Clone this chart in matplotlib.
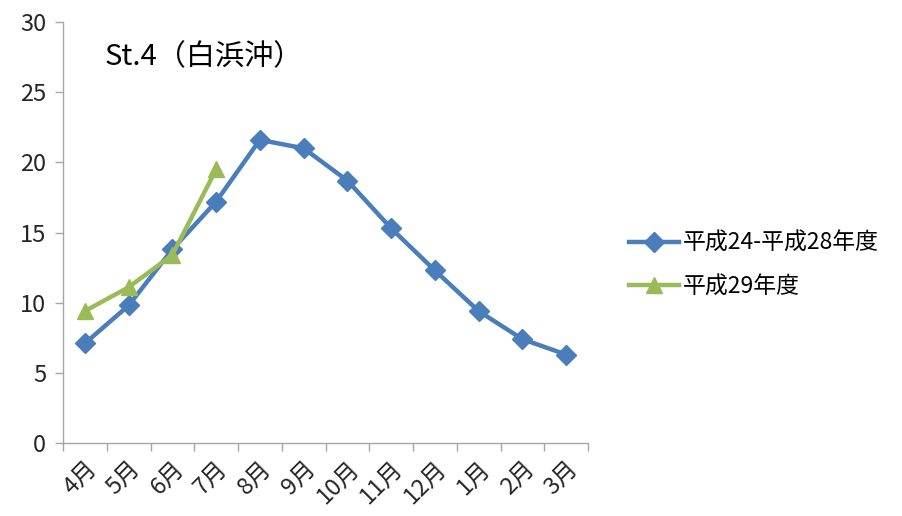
import matplotlib
matplotlib.use("Agg")
import matplotlib.pyplot as plt

plt.rcParams['font.family'] = ['Noto Sans CJK JP', 'DejaVu Sans']

months = ['4月', '5月', '6月', '7月', '8月', '9月', '10月', '11月', '12月', '1月', '2月', '3月']
avg_h24_h28 = [7.1, 9.8, 13.8, 17.2, 21.6, 21.0, 18.7, 15.3, 12.3, 9.4, 7.4, 6.3]
h29 = [9.4, 11.1, 13.4, 19.5]
series_names = ['平成24-平成28年度', '平成29年度']
title = 'St.4（白浜沖）'

fig = plt.figure(figsize=(9.02, 5.16), dpi=100)
ax = fig.add_axes([63/902, 1 - 443/516, (588-63)/902, (443-22)/516])

x = list(range(len(months)))
ax.plot(x, avg_h24_h28, color='#4A7EBB', lw=3.2, marker='D', ms=10,
        markeredgecolor='#4A7EBB', label=series_names[0], solid_joinstyle='round')
ax.plot(x[:len(h29)], h29, color='#9BBB59', lw=3.2, marker='^', ms=12,
        markeredgecolor='#9BBB59', label=series_names[1], solid_joinstyle='round')

ax.set_xlim(-0.5, len(months) - 0.5)
ax.set_ylim(0, 30)
ax.set_yticks(range(0, 31, 5))
ax.set_xticks([i + 0.5 for i in range(-1, len(months))], minor=False)
ax.set_xticklabels([])
ax.set_xticks(x, minor=True)
ax.set_xticklabels(months, minor=True, rotation=45, ha='right', va='top',
                   rotation_mode='anchor', fontsize=17)
ax.tick_params(axis='x', which='major', length=6, color='#A6A6A6', width=1)
ax.tick_params(axis='x', which='minor', length=0, pad=10)
ax.tick_params(axis='y', length=6, color='#A6A6A6', width=1, labelsize=17, pad=6)
for lbl in ax.get_yticklabels():
    lbl.set_color('#262626')
for lbl in ax.get_xticklabels(minor=True):
    lbl.set_color('#262626')

for s in ['top', 'right']:
    ax.spines[s].set_visible(False)
for s in ['left', 'bottom']:
    ax.spines[s].set_color('#A6A6A6')
    ax.spines[s].set_linewidth(1)

ax.text(105/902, 1 - 57/516, title, transform=fig.transFigure, fontsize=21,
        va='center', ha='left')

leg = fig.legend(loc='center left', bbox_to_anchor=(608/902, 1 - 265/516),
                 frameon=False, fontsize=16.5, handlelength=2.2,
                 handletextpad=0.15, labelspacing=0.9)

fig.savefig('out.png', dpi=100)
